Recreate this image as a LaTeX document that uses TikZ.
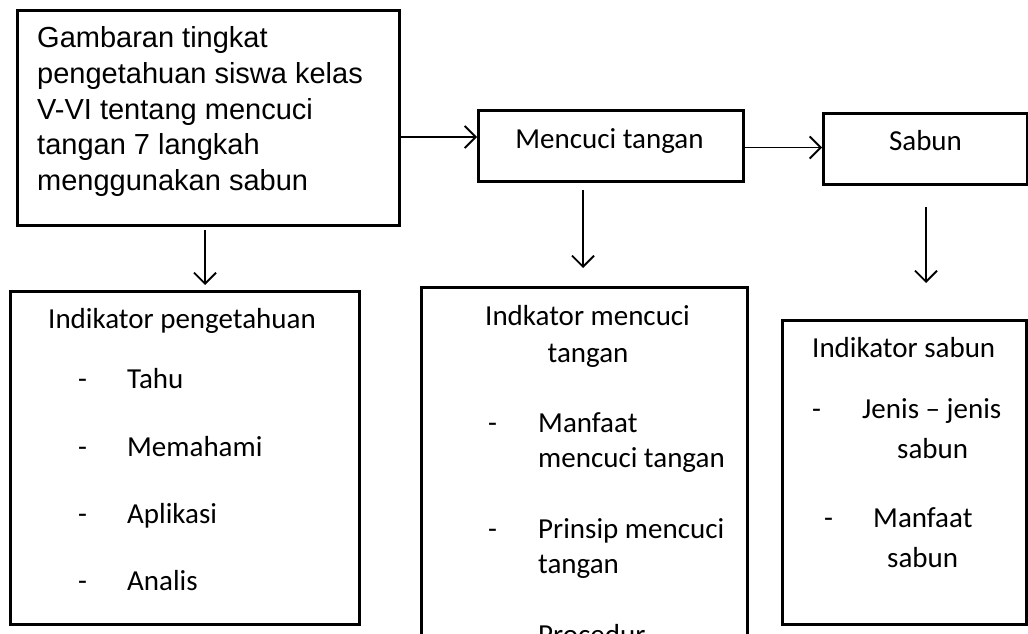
\documentclass[tikz,border=0pt]{standalone}
\usepackage{fontspec}
\setmainfont{Carlito}
\newfontfamily\arialf{Liberation Sans}
\newfontfamily\calibrif{Carlito}
\usetikzlibrary{arrows.meta}
\begin{document}
\begin{tikzpicture}[x=1pt,y=-1pt,
  box/.style={draw, line width=2.6pt, rectangle, inner sep=0pt, anchor=north west},
  conn/.style={line width=1.8pt, -{Straight Barb[length=11pt,width=22pt,line width=1.8pt]}},
  ar/.style={font=\arialf\fontsize{29}{35}\selectfont, anchor=base west, inner sep=0pt},
  cb/.style={font=\calibrif\fontsize{29}{35}\selectfont, anchor=base west, inner sep=0pt},
  cbc/.style={font=\calibrif\fontsize{29}{35}\selectfont, anchor=base, inner sep=0pt}]
\useasboundingbox (0,0) rectangle (1028,634);
\clip (0,0) rectangle (1028,634);
\fill[white] (0,0) rectangle (1028,634);
% boxes
\node[box, minimum width=382pt, minimum height=215pt] (gam) at (16,9) {};
\node[box, minimum width=265pt, minimum height=71pt] (cuci) at (477,109) {};
\node[box, minimum width=204pt, minimum height=71pt] (sab) at (822,112) {};
\node[box, minimum width=349pt, minimum height=333pt] (indp) at (9,290) {};
\node[box, minimum width=326pt, minimum height=420pt] (indc) at (420,286) {};
\node[box, minimum width=244pt, minimum height=304pt] (inds) at (781,319) {};
% box 1 text
\node[ar] (g1) at (37,48) {Gambaran tingkat};
\node[ar] (g2) at (37,83.5) {pengetahuan siswa kelas};
\node[ar] (g3) at (37,119) {V-VI tentang mencuci};
\node[ar] (g4) at (37,154.5) {tangan 7 langkah};
\node[ar] (g5) at (37,190.5) {menggunakan sabun};
% top boxes text
\node[cbc] (ct) at (609.5,148) {Mencuci tangan};
\node[cbc] (st) at (925.5,150) {Sabun};
% indikator pengetahuan
\node[cb] (p0) at (48,328) {Indikator pengetahuan};
\node[cb] (pd1) at (78,388) {-};
\node[cb] (p1) at (127,388) {Tahu};
\node[cb] (pd2) at (78,456) {-};
\node[cb] (p2) at (127,456) {Memahami};
\node[cb] (pd3) at (78,523) {-};
\node[cb] (p3) at (127,523) {Aplikasi};
\node[cb] (pd4) at (78,590) {-};
\node[cb] (p4) at (127,590) {Analis};
% indikator mencuci tangan
\node[cb] (c0) at (485,325) {Indkator mencuci};
\node[cbc] (c0b) at (588,362) {tangan};
\node[cb] (cd1) at (488,432) {-};
\node[cb] (c1) at (538,432) {Manfaat};
\node[cb] (c1b) at (538,467) {mencuci tangan};
\node[cb] (cd2) at (488,538) {-};
\node[cb] (c2) at (538,538) {Prinsip mencuci};
\node[cb] (c2b) at (538,573) {tangan};
\node[cb] (cd3) at (488,644) {-};
\node[cb] (c3) at (538,644) {Procedur};
% indikator sabun
\node[cb] (s0) at (812,357) {Indikator sabun};
\node[cb] (sd1) at (812,418) {-};
\node[cb] (s1) at (862,418) {Jenis – jenis};
\node[cb] (s1b) at (897,458) {sabun};
\node[cb] (sd2) at (824,527) {-};
\node[cb] (s2) at (873,527) {Manfaat};
\node[cb] (s2b) at (887,567) {sabun};
% connectors
\coordinate (a1) at (398,137);
\draw[conn] (a1) -- (a1 -| cuci.west);
\coordinate (a2) at (742,147.5);
\draw[conn] (a2) -- (a2 -| sab.west);
\coordinate (d1s) at (205,230);
\coordinate (d1e) at (205,285);
\draw[conn] (d1s) -- (d1e);
\coordinate (d2s) at (583,190);
\coordinate (d2e) at (583,268);
\draw[conn] (d2s) -- (d2e);
\coordinate (d3s) at (926,207);
\coordinate (d3e) at (926,283);
\draw[conn] (d3s) -- (d3e);
\end{tikzpicture}
\end{document}
